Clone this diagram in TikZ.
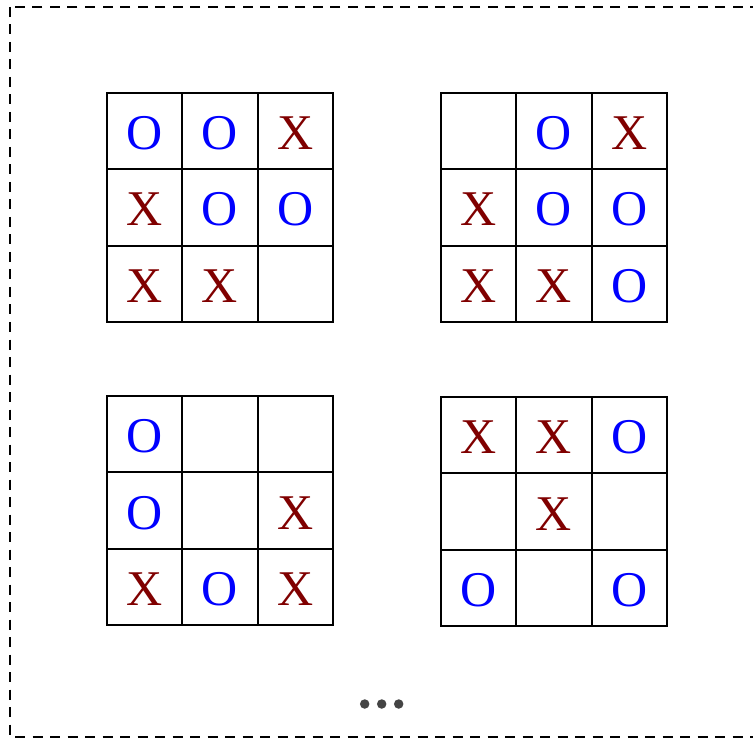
\documentclass[tikz,border=0pt]{standalone}
\usepackage{fontspec}
\setmainfont{Liberation Serif}
\definecolor{xcol}{RGB}{128,0,0}
\definecolor{dotcol}{RGB}{68,68,68}
\newcommand\mO{O}
\newcommand\mX{X}
\newcommand\mE{}
% #1 name, #2 x0, #3 y0, #4 entries
\newcommand\tttboard[4]{%
  \foreach \v [count=\k from 0] in {#4} {
    \pgfmathtruncatemacro\cc{mod(\k,3)}
    \pgfmathtruncatemacro\rr{div(\k,3)}
    \node[cell, c\v] (#1-\k) at ({#2+\cc*75.33+37.67}, {#3+\rr*76.33+38.17}) {\csname m\v\endcsname};
  }
  \draw[gridline] (#2,#3) rectangle ({#2+226},{#3+229});
  \foreach \dx/\dy in {75/76,151/153} {
    \draw[gridline] ({#2+\dx},#3) -- ({#2+\dx},{#3+229});
    \draw[gridline] (#2,{#3+\dy}) -- ({#2+226},{#3+\dy});
  }}
\begin{document}
\begin{tikzpicture}[x=1pt,y=-1pt,
  cell/.style={minimum width=75.3pt, minimum height=76.3pt,
    inner sep=0pt, outer sep=0pt, text height=37pt, text depth=0pt,
    font=\fontsize{50}{50}\selectfont},
  gridline/.style={draw=black, line width=2.5pt, line cap=rect},
  cO/.style={text=blue},
  cX/.style={text=xcol},
  cE/.style={},
  dot/.style={circle, fill=dotcol, inner sep=0pt, minimum size=9.5pt}]
\useasboundingbox (0,0) rectangle (753,738);
\draw[dash pattern=on 10pt off 7.5pt, line width=2pt] (10,7) rectangle (775,737);
\tttboard{a}{107}{93}{O,O,X,X,O,O,X,X,E}
\tttboard{b}{441}{93}{E,O,X,X,O,O,X,X,O}
\tttboard{c}{107}{396}{O,E,E,O,E,X,X,O,X}
\tttboard{d}{441}{397}{X,X,O,E,X,E,O,E,O}
\node[dot] (dot1) at (364.7,704) {};
\node[dot] (dot2) at (381.7,704) {};
\node[dot] (dot3) at (398.7,704) {};
\end{tikzpicture}
\end{document}
